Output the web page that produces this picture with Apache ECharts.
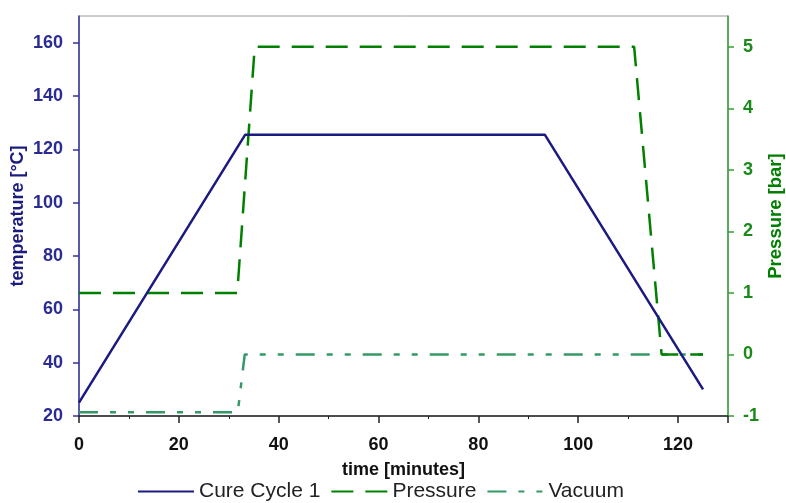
<!DOCTYPE html>
<html>
<head>
<meta charset="utf-8">
<script src="https://cdn.jsdelivr.net/npm/echarts@6/dist/echarts.min.js"></script>
<style>html,body{margin:0;padding:0;background:#fff}#c{width:786px;height:503px}</style>
</head>
<body>
<div id="c"></div>
<script>
// Data
const cureTime = [0, 33.3, 93.3, 125];
const cureTemp = [25, 125.5, 125.5, 30];
const pressureTime = [0, 31.7, 35.2, 111.2, 116.7, 125];
const pressureBar = [1, 1, 5, 5, 0, 0];
const vacuumTime = [0, 31.8, 33.2, 125];
const vacuumBar = [-0.94, -0.94, 0, 0];
const seriesNames = ['Cure Cycle 1', 'Pressure', 'Vacuum'];
const xTitle = 'time [minutes]';
const yLeftTitle = 'temperature [°C]';
const yRightTitle = 'Pressure [bar]';

const zip = (a, b) => a.map((v, i) => [v, b[i]]);
const FONT = "'Liberation Sans', Arial, sans-serif";
const NAVY = '#1a1a80';
const NAVYTXT = '#2b2b94';
const GREEN = '#008000';
const GREENTXT = '#1a8a1a';
const SEA = '#339966';

const chart = echarts.init(document.getElementById('c'), null, {renderer: 'canvas'});
chart.setOption({
  animation: false,
  backgroundColor: '#fff',
  grid: {left: 79, right: 58, top: 16, bottom: 87, outerBoundsMode: 'none', containLabel: false,
         show: true, borderColor: '#9a9a9a', borderWidth: 1, backgroundColor: '#fff'},
  legend: {
    left: 137, top: 481, padding: 0, itemGap: 10, itemWidth: 56, itemHeight: 14,
    itemStyle: {opacity: 0},
    textStyle: {fontFamily: FONT, fontSize: 21, color: '#222'},
    data: seriesNames
  },
  xAxis: {
    type: 'value', min: 0, max: 130, interval: 20,
    name: xTitle, nameLocation: 'middle', nameGap: 45, nameMoveOverlap: false,
    nameTextStyle: {fontFamily: FONT, fontSize: 18, fontWeight: 'bold', color: '#111'},
    axisLine: {onZero: false, lineStyle: {color: '#222', width: 1.5}},
    axisTick: {show: true, inside: false, length: 7, lineStyle: {color: '#222', width: 1.5}},
    minorTick: {show: true, splitNumber: 2, length: 3, lineStyle: {color: '#222'}},
    axisLabel: {fontFamily: FONT, fontSize: 18, fontWeight: 'bold', color: '#111', margin: 20, showMaxLabel: false},
    splitLine: {show: false}
  },
  yAxis: [{
    type: 'value', position: 'left', min: 20, max: 170, interval: 20,
    name: yLeftTitle, nameLocation: 'middle', nameRotate: 90, nameGap: 52, nameMoveOverlap: false,
    nameTextStyle: {fontFamily: FONT, fontSize: 18, fontWeight: 'bold', color: NAVY},
    axisLine: {show: true, onZero: false, lineStyle: {color: '#3333a0', width: 1.5}},
    axisTick: {show: true, inside: false, length: 6, lineStyle: {color: '#3333a0', width: 1.5}},
    axisLabel: {fontFamily: FONT, fontSize: 18, fontWeight: 'bold', color: NAVYTXT, margin: 16, showMaxLabel: false},
    splitLine: {show: false}
  }, {
    type: 'value', position: 'right', min: -1, max: 5.5, interval: 1,
    name: yRightTitle, nameLocation: 'middle', nameRotate: 90, nameGap: 38, nameMoveOverlap: false,
    nameTextStyle: {fontFamily: FONT, fontSize: 18.5, fontWeight: 'bold', color: GREEN},
    axisLine: {show: true, onZero: false, lineStyle: {color: '#33a033', width: 1.5}},
    axisTick: {show: true, inside: false, length: 6, lineStyle: {color: '#33a033', width: 1.5}},
    axisLabel: {fontFamily: FONT, fontSize: 18, fontWeight: 'bold', color: GREENTXT, margin: 15, showMaxLabel: false},
    splitLine: {show: false}
  }],
  series: [{
    name: seriesNames[0], type: 'line', yAxisIndex: 0, data: zip(cureTime, cureTemp),
    symbol: 'none', lineStyle: {color: NAVY, width: 2.5}, itemStyle: {color: NAVY}, z: 3
  }, {
    name: seriesNames[1], type: 'line', yAxisIndex: 1, data: zip(pressureTime, pressureBar),
    symbol: 'none', lineStyle: {color: GREEN, width: 2.5, type: [22, 12]}, itemStyle: {color: GREEN}, z: 2
  }, {
    name: seriesNames[2], type: 'line', yAxisIndex: 1, data: zip(vacuumTime, vacuumBar),
    symbol: 'none', lineStyle: {color: SEA, width: 2.5, type: [19, 12, 6, 12, 6, 12]}, itemStyle: {color: SEA}, z: 1
  }]
});
</script>
</body>
</html>
